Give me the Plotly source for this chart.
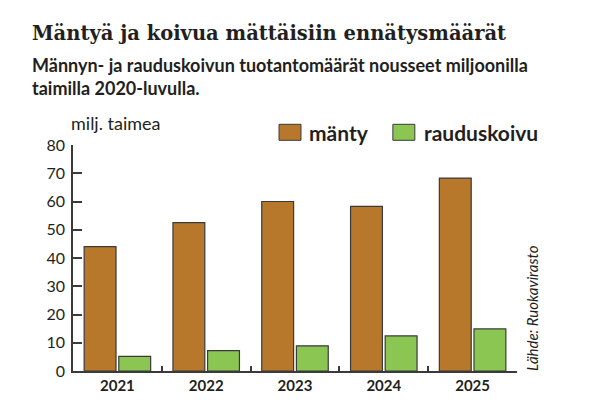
import plotly.graph_objects as go

years = ["2021", "2022", "2023", "2024", "2025"]
manty = [44.0, 52.5, 60.0, 58.3, 68.3]
rauduskoivu = [5.2, 7.2, 8.9, 12.4, 14.9]
y_ticks = [0, 10, 20, 30, 40, 50, 60, 70, 80]

title = "Mäntyä ja koivua mättäisiin ennätysmäärät"
subtitle1 = "Männyn- ja rauduskoivun tuotantomäärät nousseet miljoonilla"
subtitle2 = "taimilla 2020-luvulla."
y_title = "milj. taimea"
source = "Lähde: Ruokavirasto"

C_MANTY = "#B8782C"
C_KOIVU = "#8BC653"
C_LINE = "#3a3a3a"
C_TEXT = "#231f20"

OFF = 8  # page body margin
W, H = 590 - OFF, 414 - OFF
L, R, T, B = 72.7 - OFF, 517.3 - OFF, 144.7 - OFF, 370.7 - OFF
PW, PH = R - L, B - T

def px(x):
    return (x - OFF - L) / PW

def py(y):
    return (B - (y - OFF)) / PH

fig = go.Figure()
fig.add_trace(go.Bar(x=years, y=manty, name="mänty", marker=dict(color=C_MANTY, line=dict(color=C_LINE, width=1.2))))
fig.add_trace(go.Bar(x=years, y=rauduskoivu, name="rauduskoivu", marker=dict(color=C_KOIVU, line=dict(color=C_LINE, width=1.2))))

font = "Lato"
fig.update_layout(
    width=W, height=H,
    margin=dict(l=L, r=W - R, t=T, b=H - B, pad=0),
    paper_bgcolor="white", plot_bgcolor="white",
    barmode="group", bargap=0.22, bargroupgap=0.08,
    showlegend=False,
    font=dict(family=font, color=C_TEXT),
    xaxis=dict(
        type="category", tickson="boundaries", ticks="inside", ticklen=5, tickwidth=1.5,
        tickcolor=C_LINE, showline=True, linecolor=C_LINE, linewidth=1.5,
        showgrid=False, tickfont=dict(family=font, size=15, color=C_TEXT, weight="bold"),
        range=[-0.5, 4.5], fixedrange=True,
    ),
    yaxis=dict(
        range=[0, 80], tickvals=y_ticks, ticks="inside", ticklen=9, tickwidth=1.5,
        tickcolor=C_LINE, showline=True, linecolor=C_LINE, linewidth=1.5,
        showgrid=False, zeroline=False, tickfont=dict(family=font, size=16, color=C_TEXT),
        ticklabelstandoff=3,
    ),
)

ann = [
    dict(text=title, x=px(30), y=py(33), font=dict(family="DejaVu Serif", size=19.5, weight="bold", color=C_TEXT)),
    dict(text=subtitle1, x=px(30), y=py(65), font=dict(family=font, size=18, weight="bold", color=C_TEXT)),
    dict(text=subtitle2, x=px(30), y=py(88), font=dict(family=font, size=18, weight="bold", color=C_TEXT)),
    dict(text=y_title, x=px(69), y=py(123), font=dict(family=font, size=18, color=C_TEXT)),
    dict(text="mänty", x=px(307), y=py(132), font=dict(family=font, size=21, weight="bold", color=C_TEXT)),
    dict(text="rauduskoivu", x=px(422), y=py(132), font=dict(family=font, size=21, weight="bold", color=C_TEXT)),
]
for a in ann:
    a.update(xref="paper", yref="paper", xanchor="left", yanchor="middle", showarrow=False)
    fig.add_annotation(**a)

fig.add_annotation(text=source, xref="paper", yref="paper", x=px(533), y=py(373),
                   xanchor="center", yanchor="bottom", textangle=-90, showarrow=False,
                   font=dict(family=font, size=15, style="italic", color=C_TEXT))

for x0, x1, c in [(279, 301, C_MANTY), (393, 415, C_KOIVU)]:
    fig.add_shape(type="rect", xref="paper", yref="paper", x0=px(x0), x1=px(x1), y0=py(140), y1=py(124),
                  fillcolor=c, line=dict(color=C_LINE, width=1))

fig.write_html("out.html")
